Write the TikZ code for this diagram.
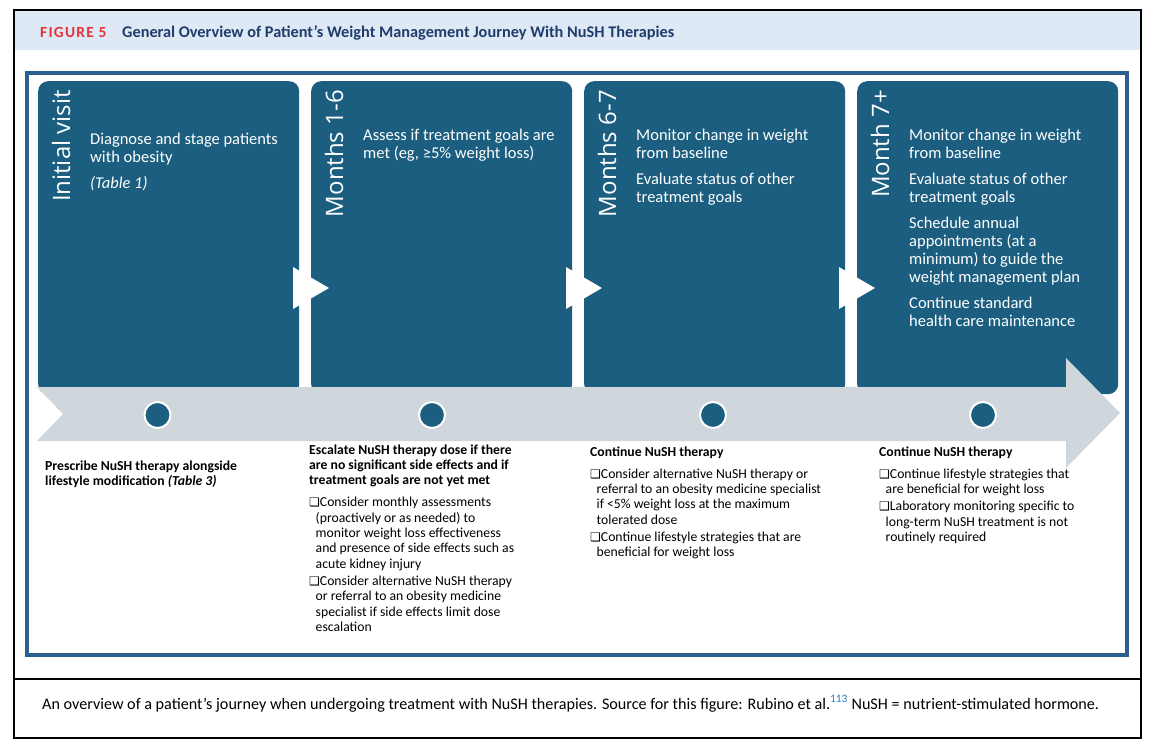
\documentclass[tikz,border=0pt]{standalone}
\usepackage{fontspec}
\usepackage{graphicx}
\setmainfont{Carlito}
\newfontfamily\osans{Open Sans}
\newfontfamily\dvs{DejaVu Sans}
\newfontfamily\figfont[LetterSpace=8]{Carlito}
\definecolor{cardblue}{RGB}{27,94,128}
\definecolor{bandgray}{RGB}{207,214,220}
\definecolor{headbg}{RGB}{223,233,246}
\definecolor{frameblue}{RGB}{45,95,142}
\definecolor{figred}{RGB}{227,52,58}
\definecolor{titleblue}{RGB}{31,61,107}
\definecolor{refblue}{RGB}{42,122,184}
\newcommand{\bx}{{\dvs\fontsize{12}{12}\selectfont ❑}}
\newcommand{\ind}{\hspace*{6.5pt}}
\newcommand{\ctxt}[1]{\parbox[t]{230pt}{\fontsize{16.5}{18}\selectfont\raggedright\setlength{\parskip}{8pt}#1}}
\newcommand{\btxt}[1]{\parbox[t]{270pt}{\fontsize{13.7}{15.3}\selectfont\raggedright\setlength{\parskip}{2pt}#1}}
\begin{document}
\begin{tikzpicture}[x=1pt,y=-1pt,
  card/.style={fill=cardblue, rounded corners=10pt, minimum width=261pt, minimum height=313pt, anchor=north west, inner sep=0pt},
  vlab/.style={rotate=90, anchor=base east, inner sep=0pt, text=white, font=\osans\fontsize{24}{24}\selectfont},
  ctext/.style={anchor=base west, inner sep=0pt, text=white},
  btext/.style={anchor=base west, inner sep=0pt, text=black},
  dot/.style={circle, fill=cardblue, draw=white, line width=2pt, minimum size=26pt, inner sep=0pt},
  tri/.style={fill=white},
]
\useasboundingbox (0,0) rectangle (1159,753);
\fill[white] (0,0) rectangle (1159,753);
% outer frame and header
\fill[headbg] (14,10) rectangle (1141,50);
\draw[black, line width=1.3pt] (14,10) rectangle (1141,738);
\draw[black, line width=1.8pt] (14,679) -- (1141,679);
\draw[frameblue, line width=3.5pt] (27,73) rectangle (1127,655);
% title
\node[anchor=base west, inner sep=0pt, text=figred] (fig) at (40,37) {\figfont\bfseries\fontsize{15.5}{15.5}\selectfont FIGURE 5};
\node[anchor=base west, inner sep=0pt, text=titleblue] (title) at (122,37) {\bfseries\fontsize{16.3}{16.3}\selectfont General Overview of Patient’s Weight Management Journey With NuSH Therapies};
% cards
\node[card] (c1) at (38,81) {};
\node[card] (c2) at (311,81) {};
\node[card] (c3) at (584,81) {};
\node[card] (c4) at (857,81) {};
% band arrow
\fill[bandgray] (37,387) -- (1066,387) -- (1066,358) -- (1120,413) -- (1066,468) -- (1066,441) -- (37,441) -- (63,414) -- cycle;
% white chevrons
\fill[tri] (293,267) -- (329,288) -- (293,309) -- cycle;
\fill[tri] (566,267) -- (602,288) -- (566,309) -- cycle;
\fill[tri] (839,267) -- (875,288) -- (839,309) -- cycle;
% vertical labels
\node[vlab] (v1) at (70,90) {Initial visit};
\node[vlab] (v2) at (343,90) {Months 1-6};
\node[vlab] (v3) at (616,90) {Months 6-7};
\node[vlab] (v4) at (889,90) {Month 7+};
% card texts
\node[ctext] (t1) at (90,144) {\ctxt{Diagnose and stage patients\\with obesity\par\textit{(Table 1)}}};
\node[ctext] (t2) at (363,140) {\ctxt{Assess if treatment goals are\\met (eg, ≥5\% weight loss)}};
\node[ctext] (t3) at (636,140) {\ctxt{Monitor change in weight\\from baseline\par Evaluate status of other\\treatment goals}};
\node[ctext] (t4) at (909,140) {\ctxt{Monitor change in weight\\from baseline\par Evaluate status of other\\treatment goals\par Schedule annual\\appointments (at a\\minimum) to guide the\\weight management plan\par Continue standard\\health care maintenance}};
% dots
\node[dot] (d1) at (157.5,415) {};
\node[dot] (d2) at (432,415) {};
\node[dot] (d3) at (713,415) {};
\node[dot] (d4) at (983,415) {};
% bottom texts
\node[btext] (b1) at (45,470) {\btxt{\textbf{Prescribe NuSH therapy alongside\\lifestyle modification \textit{(Table 3)}}}};
\node[btext] (b2) at (309,454) {\btxt{\textbf{Escalate NuSH therapy dose if there\\are no significant side effects and if\\treatment goals are not yet met}\par\vspace{5pt}
\bx Consider monthly assessments\\\ind(proactively or as needed) to\\\ind monitor weight loss effectiveness\\\ind and presence of side effects such as\\\ind acute kidney injury\par
\bx Consider alternative NuSH therapy\\\ind or referral to an obesity medicine\\\ind specialist if side effects limit dose\\\ind escalation}};
\node[btext] (b3) at (590,456) {\btxt{\textbf{Continue NuSH therapy}\par\vspace{5pt}
\bx Consider alternative NuSH therapy or\\\ind referral to an obesity medicine specialist\\\ind if <5\% weight loss at the maximum\\\ind tolerated dose\par
\bx Continue lifestyle strategies that are\\\ind beneficial for weight loss}};
\node[btext] (b4) at (879,456) {\btxt{\textbf{Continue NuSH therapy}\par\vspace{5pt}
\bx Continue lifestyle strategies that\\\ind are beneficial for weight loss\par
\bx Laboratory monitoring specific to\\\ind long-term NuSH treatment is not\\\ind routinely required}};
% caption
\node[anchor=base west, inner sep=0pt] (cap) at (42,709) {\fontsize{16.15}{16.15}\selectfont An overview of a patient’s journey when undergoing treatment with NuSH therapies. Source for this figure: Rubino et al.\textsuperscript{\color{refblue}113} NuSH = nutrient-stimulated hormone.};
\end{tikzpicture}
\end{document}
